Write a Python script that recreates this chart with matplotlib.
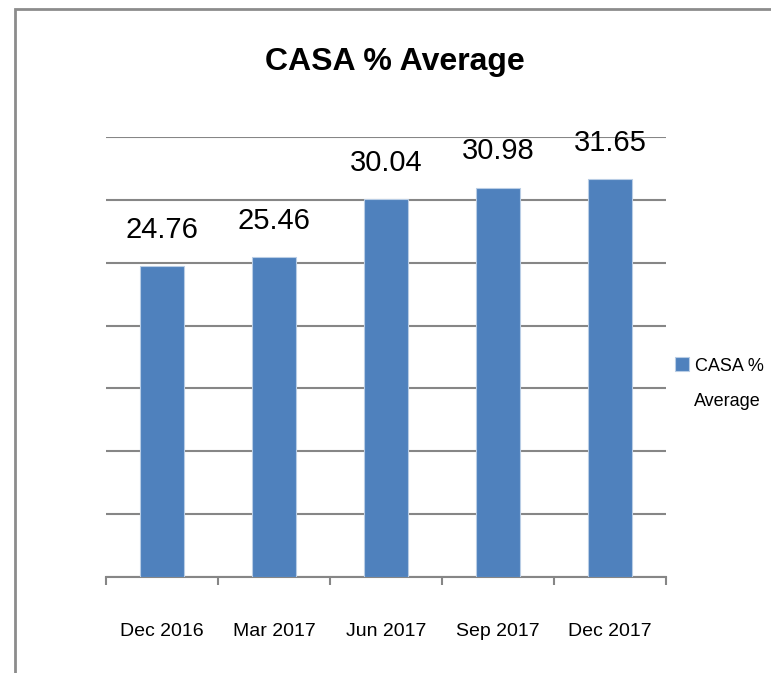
import numpy as np
import matplotlib
matplotlib.use("Agg")
import matplotlib.pyplot as plt
from matplotlib.patches import Rectangle

# data
quarters = ["Dec 2016", "Mar 2017", "Jun 2017", "Sep 2017", "Dec 2017"]
casa_avg = [24.76, 25.46, 30.04, 30.98, 31.65]
series_name = ["CASA %", "Average"]   # legend label, wrapped over two lines

plt.rcParams['font.family'] = ['Liberation Sans', 'DejaVu Sans']

W, H = 771, 673
fig = plt.figure(figsize=(W / 100, H / 100), dpi=100)

# outer chart frame (only top/left visible, rest cropped)
fig.patches.append(Rectangle((15 / W, -0.2), 1.5, 1.2 - 9 / H,
                             transform=fig.transFigure, fill=False,
                             edgecolor="#8c8c8c", linewidth=2.0))

ax = fig.add_axes([106 / W, 96 / H, 560 / W, 440 / H])
x = np.arange(len(quarters))
bars = ax.bar(x, casa_avg, width=0.4, color="#4F81BD", edgecolor="#B9CDE5",
              linewidth=0.8, label=series_name[0], zorder=3)
ax.bar_label(bars, labels=["%.2f" % v for v in casa_avg], padding=16,
             fontsize=21)

ax.set_xlim(-0.5, len(quarters) - 0.5)
ax.set_ylim(0, 35)
ax.set_yticks(np.arange(0, 36, 5))
ax.tick_params(axis="y", length=0, labelleft=False)
ax.yaxis.grid(True, color="#868686", linewidth=1.5, zorder=0)

ax.set_xticks(x)
ax.set_xticklabels(quarters, fontsize=14)
ax.tick_params(axis="x", which="major", length=0, pad=33)
ax.set_xticks(np.arange(-0.5, len(quarters), 1.0), minor=True)
ax.tick_params(axis="x", which="minor", length=6, width=1.5, color="#868686")

for s in ["top", "right", "left"]:
    ax.spines[s].set_visible(False)
ax.spines["bottom"].set_color("#868686")
ax.spines["bottom"].set_linewidth(1.5)

fig.text(395 / W, 1 - 62 / H, "CASA % Average", ha="center", va="center",
         fontsize=23, fontweight="bold")

leg = fig.legend(loc="center left", bbox_to_anchor=(675 / W, 1 - 366 / H),
                 frameon=False, fontsize=13, handlelength=0.8,
                 handleheight=0.8, handletextpad=0.3, borderaxespad=0,
                 borderpad=0)
# second line of the wrapped legend label
fig.text(694 / W, 1 - 402 / H, series_name[1], ha="left", va="center",
         fontsize=13)

fig.savefig("out.png", dpi=100)
